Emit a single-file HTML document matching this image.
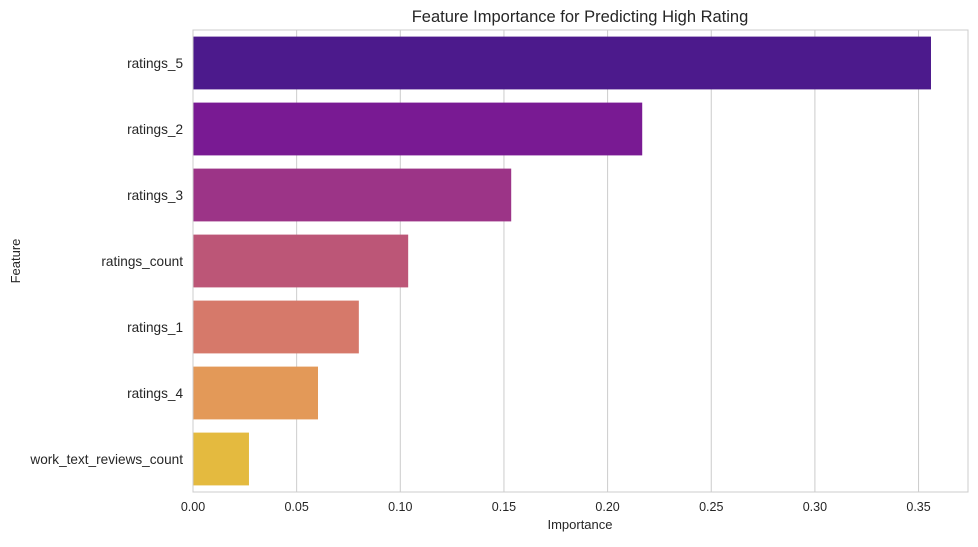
<!DOCTYPE html>
<html><head><meta charset="utf-8"><style>
body{margin:0;background:#fff;}
svg text{font-family:"Liberation Sans","DejaVu Sans",sans-serif;fill:#262626;}
</style></head><body>
<svg id="chart" width="978" height="542" xmlns="http://www.w3.org/2000/svg">
<rect width="978" height="542" fill="#fff"/>
<g id="grid"></g>
<g id="bars"></g>
<g id="axes"></g>
<text x="580" y="22" text-anchor="middle" font-size="16.5">Feature Importance for Predicting High Rating</text>
<text x="580" y="529" text-anchor="middle" font-size="13">Importance</text>
<text x="20" y="261" text-anchor="middle" font-size="13" transform="rotate(-90 20 261)">Feature</text>
</svg>
<script>
const features = ["ratings_5","ratings_2","ratings_3","ratings_count","ratings_1","ratings_4","work_text_reviews_count"];
const importances = [0.356,0.2167,0.1535,0.1038,0.080,0.0603,0.027];
const colors = ["#4c1a8c","#791a93","#9c3487","#bc5677","#d6796a","#e39958","#e4ba3f"];
const xTicks = [0,0.05,0.10,0.15,0.20,0.25,0.30,0.35];
const xTickLabels = ["0.00","0.05","0.10","0.15","0.20","0.25","0.30","0.35"];
const NS="http://www.w3.org/2000/svg";
const L=193,R=968,T=30,B=492;
const xs=v=>L+v*2073;
const band=(B-T)/features.length;
const ys=i=>T+i*band;
function mk(tag,attrs,parent){const e=document.createElementNS(NS,tag);for(const k in attrs)e.setAttribute(k,attrs[k]);parent.appendChild(e);return e;}
const grid=document.getElementById('grid'),bars=document.getElementById('bars'),axes=document.getElementById('axes');
xTicks.forEach((t,i)=>{
  const g=mk('line',{x1:xs(t),x2:xs(t),y1:T,y2:B,stroke:'#cccccc','stroke-width':1},grid);
  
  
  const tx=mk('text',{x:xs(t),y:B+19,'text-anchor':'middle','font-size':12.5},axes);
  tx.textContent=xTickLabels[i];
  
  
});
features.forEach((f,i)=>{
  const y=ys(i)+band*0.1,h=band*0.8;
  const r=mk('rect',{x:L,y:y,width:xs(importances[i])-L,height:h,fill:colors[i]},bars);
  
  
  const tx=mk('text',{x:L-10,y:ys(i)+band/2+5,'text-anchor':'end','font-size':13.6},axes);
  tx.textContent=f;
  
  
});
const fr=mk('rect',{x:L,y:T,width:R-L,height:B-T,fill:'none',stroke:'#cccccc','stroke-width':1},axes);


</script>
</body></html>
